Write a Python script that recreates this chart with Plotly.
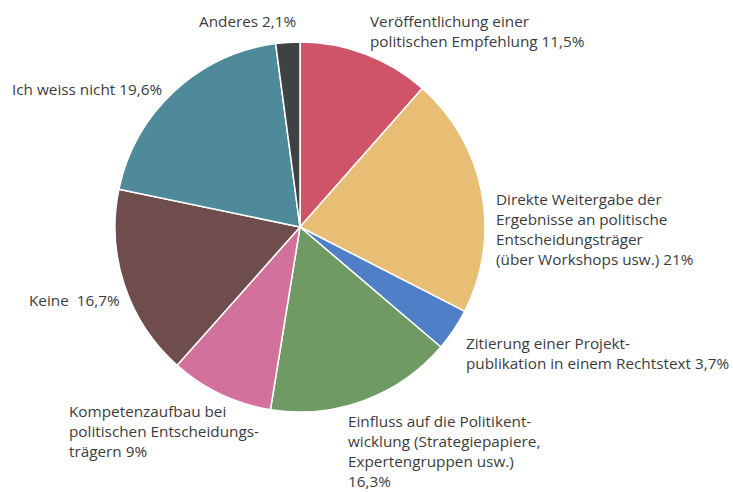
import plotly.graph_objects as go

labels = ["Veröffentlichung einer politischen Empfehlung", "Direkte Weitergabe der Ergebnisse an politische Entscheidungsträger (über Workshops usw.)",
          "Zitierung einer Projektpublikation in einem Rechtstext", "Einfluss auf die Politikentwicklung (Strategiepapiere, Expertengruppen usw.)",
          "Kompetenzaufbau bei politischen Entscheidungsträgern", "Keine", "Ich weiss nicht", "Anderes"]
values = [11.5, 21.0, 3.7, 16.3, 9.0, 16.7, 19.6, 2.1]
colors = ["#d05467", "#e8bd74", "#4f7fc6", "#6f9a63", "#d2729c", "#6e4d4c", "#4e8a9a", "#3f4142"]
label_texts = [
    "Veröffentlichung einer<br>politischen Empfehlung 11,5%",
    "Direkte Weitergabe der<br>Ergebnisse an politische<br>Entscheidungsträger<br>(über Workshops usw.) 21%",
    "Zitierung einer Projekt-<br>publikation in einem Rechtstext 3,7%",
    "Einfluss auf die Politikent-<br>wicklung (Strategiepapiere,<br>Expertengruppen usw.)<br>16,3%",
    "Kompetenzaufbau bei<br>politischen Entscheidungs-<br>trägern 9%",
    "Keine  16,7%",
    "Ich weiss nicht 19,6%",
    "Anderes 2,1%",
]
# label anchor positions in pixels (left, top)
label_pos = [(368, 9), (494, 187), (464, 331), (346, 409), (67, 399), (27, 288), (10, 77), (197, 9)]

W, H = 733, 492
cx, cy, r = 300, 227, 185

fig = go.Figure(go.Pie(
    labels=labels, values=values, sort=False, direction="clockwise", rotation=0,
    marker=dict(colors=colors, line=dict(color="white", width=1.5)),
    textinfo="none", showlegend=False, hoverinfo="label+percent",
    domain=dict(x=[(cx - r) / W, (cx + r) / W], y=[(H - cy - r) / H, (H - cy + r) / H]),
))

for t, (px, py) in zip(label_texts, label_pos):
    fig.add_annotation(x=px / W, y=1 - py / H, xref="paper", yref="paper", text=t,
                       showarrow=False, xanchor="left", yanchor="top", align="left",
                       font=dict(family="Open Sans", size=15.3, color="#3c3c3c"))

fig.update_layout(width=W, height=H, margin=dict(l=0, r=0, t=0, b=0),
                  paper_bgcolor="white", plot_bgcolor="white")
fig.write_html("out.html")
